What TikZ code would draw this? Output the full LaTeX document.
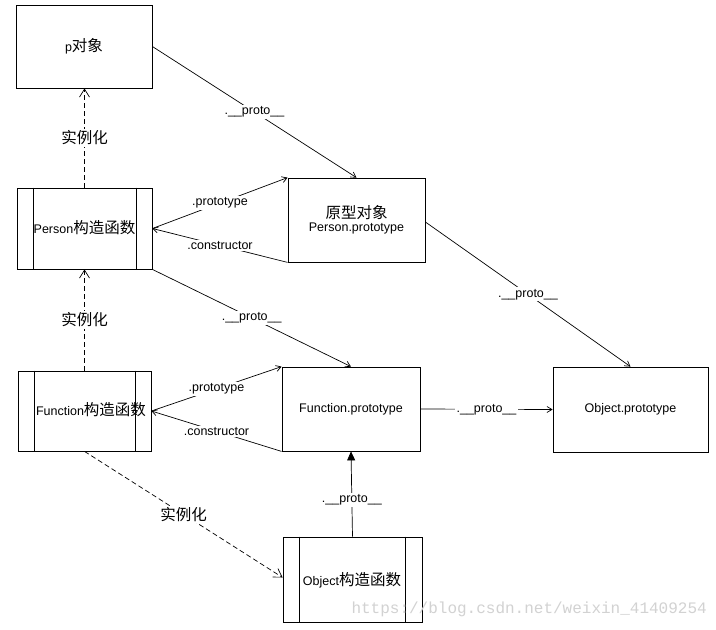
\documentclass[tikz,border=0pt]{standalone}
\usepackage{fontspec}
\setmainfont{Liberation Sans}
\newfontfamily\cjk{Noto Sans CJK SC}[Scale=1.24]
\newfontfamily\wmfont{Liberation Mono}
\usetikzlibrary{arrows.meta,calc}
\begin{document}
\begin{tikzpicture}[x=1pt,y=-1pt,
  every node/.style={font=\fontsize{12.5}{15}\selectfont},
  box/.style={draw,line width=0.8pt,rectangle,inner sep=0pt},
  conn/.style={line width=0.7pt,-{Straight Barb[length=5pt,width=6pt]}},
  inst/.style={line width=0.7pt,dash pattern=on 5pt off 3pt,-{Straight Barb[length=8pt,width=10pt]}},
  up/.style={line width=0.7pt,-{Triangle[length=9pt,width=8pt]}},
  lab/.style={fill=white,inner sep=1.5pt}
]
\useasboundingbox (0,0) rectangle (716,630);
\fill[white] (0,0) rectangle (716,630);

% boxes
\node[box,minimum width=136pt,minimum height=83pt] (p) at (84,46.5) {p{\cjk 对象}};
\node[box,minimum width=135pt,minimum height=81pt] (person) at (84.5,228.5) {};
\node (persontxt) at (84.5,228) {Person{\cjk 构造函数}};
\draw[line width=0.8pt] ($(person.north west)+(17,0)$) -- ($(person.south west)+(17,0)$);
\draw[line width=0.8pt] ($(person.north east)+(-16,0)$) -- ($(person.south east)+(-16,0)$);

\node[box,minimum width=137pt,minimum height=84pt,align=center] (proto) at (356.5,220) {{\cjk 原型对象}\\[-2pt]Person.prototype};

\node[box,minimum width=133pt,minimum height=80pt] (func) at (84.5,411) {};
\draw[line width=0.8pt] ($(func.north west)+(17,0)$) -- ($(func.south west)+(17,0)$);
\draw[line width=0.8pt] ($(func.north east)+(-16.5,0)$) -- ($(func.south east)+(-16.5,0)$);
\node (functxt) at (91,410) {Function{\cjk 构造函数}};

\node[box,minimum width=138pt,minimum height=84pt] (fproto) at (351,409) {Function.prototype};
\node[box,minimum width=155pt,minimum height=85pt] (oproto) at (630.5,409.5) {Object.prototype};

\node[box,minimum width=139pt,minimum height=85pt] (octor) at (352.5,579.5) {};
\draw[line width=0.8pt] ($(octor.north west)+(17,0)$) -- ($(octor.south west)+(17,0)$);
\draw[line width=0.8pt] ($(octor.north east)+(-17,0)$) -- ($(octor.south east)+(-17,0)$);
\node (octortxt) at (352,580) {Object{\cjk 构造函数}};

% connectors
\draw[conn] (p.east) -- node[lab] {.\_\_proto\_\_} (proto.north);
\draw[inst] (person.north) -- node[lab] {\cjk 实例化} (person.north |- p.south);
\draw[conn] (person.east) -- node[lab] {.prototype} (proto.north west);
\draw[conn] (proto.south west) -- node[lab] {.constructor} (person.east);
\draw[conn] (person.south east) -- node[lab] {.\_\_proto\_\_} (fproto.north);
\draw[conn] ($(proto.east)+(0,2)$) -- node[lab] {.\_\_proto\_\_} (oproto.north);
\draw[inst] (func.north) -- node[lab] {\cjk 实例化} (func.north |- person.south);
\draw[conn] (func.east) -- node[lab] {.prototype} (fproto.north west);
\draw[conn] (fproto.south west) -- node[lab] {.constructor} (func.east);
\draw[conn] (fproto.east) -- node[lab] {.\_\_proto\_\_} (oproto.west);
\draw[up] (octor.north) -- node[lab,pos=0.43] {.\_\_proto\_\_} (fproto.south);
\draw[inst] (func.south) -- node[lab] {\cjk 实例化} ($(octor.west)+(0,-2)$);

% watermark
\node[text=gray!35,font=\wmfont\fontsize{16}{18}\selectfont,anchor=east,inner sep=0pt] (wm) at (707,609) {https://blog.csdn.net/weixin\_41409254};
\end{tikzpicture}
\end{document}
